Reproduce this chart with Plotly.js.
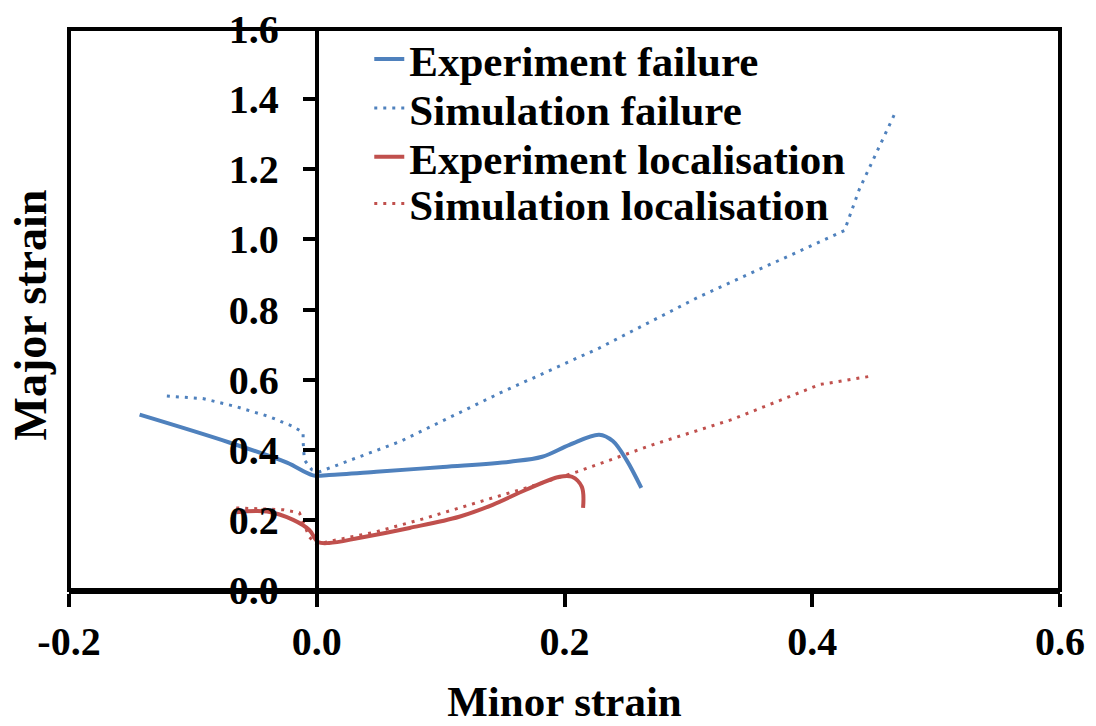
<!DOCTYPE html>
<html>
<head>
<meta charset="utf-8">
<script src="https://cdn.plot.ly/plotly-3.0.1.min.js"></script>
<style>html,body{margin:0;padding:0;background:#fff;}#chart{width:1096px;height:726px;}</style>
</head>
<body>
<div id="chart"></div>
<script>
// Experiment failure
const expFailX = [-0.143, -0.070, -0.024, -0.003, 0.010, 0.048, 0.102, 0.156, 0.182, 0.204, 0.228, 0.239, 0.250, 0.262];
const expFailY = [0.500, 0.420, 0.363, 0.327, 0.328, 0.337, 0.351, 0.366, 0.380, 0.414, 0.443, 0.425, 0.371, 0.291];
// Simulation failure
const simFailX = [-0.121, -0.092, -0.065, -0.038, -0.019, -0.011, -0.011, -0.010, -0.004, 0.002, 0.067, 0.148, 0.228, 0.309, 0.426, 0.438, 0.468];
const simFailY = [0.553, 0.546, 0.523, 0.494, 0.466, 0.449, 0.423, 0.371, 0.343, 0.337, 0.423, 0.562, 0.690, 0.837, 1.025, 1.143, 1.369];
// Experiment localisation
const expLocX = [-0.065, -0.040, -0.019, -0.006, 0.001, 0.010, 0.035, 0.075, 0.115, 0.142, 0.169, 0.196, 0.206, 0.214, 0.215];
const expLocY = [0.222, 0.224, 0.200, 0.171, 0.137, 0.134, 0.149, 0.177, 0.209, 0.243, 0.286, 0.323, 0.323, 0.294, 0.234];
// Simulation localisation
const simLocX = [-0.065, -0.027, -0.014, -0.006, 0.000, 0.008, 0.048, 0.089, 0.129, 0.169, 0.210, 0.271, 0.335, 0.406, 0.446];
const simLocY = [0.234, 0.229, 0.220, 0.151, 0.129, 0.137, 0.166, 0.206, 0.249, 0.291, 0.337, 0.414, 0.486, 0.586, 0.609];

const seriesNames = ['Experiment failure', 'Simulation failure', 'Experiment localisation', 'Simulation localisation'];
const xTickVals = [-0.2, 0.0, 0.2, 0.4, 0.6];
const xTickText = ['-0.2', '0.0', '0.2', '0.4', '0.6'];
const yTickVals = [0.0, 0.2, 0.4, 0.6, 0.8, 1.0, 1.2, 1.4, 1.6];
const yTickText = ['0.0', '0.2', '0.4', '0.6', '0.8', '1.0', '1.2', '1.4', '1.6'];

const BLUE = '#4F81BD';
const RED = '#C0504D';
const FONT = 'Liberation Serif, Times New Roman, serif';

const traces = [
  {x: expFailX, y: expFailY, name: seriesNames[0], mode: 'lines', legend: 'legend',
   line: {color: BLUE, width: 4, shape: 'spline', smoothing: 1.0}},
  {x: simFailX, y: simFailY, name: seriesNames[1], mode: 'lines', legend: 'legend2',
   line: {color: BLUE, width: 3, dash: '3px,6px'}},
  {x: expLocX, y: expLocY, name: seriesNames[2], mode: 'lines', legend: 'legend3',
   line: {color: RED, width: 4, shape: 'spline', smoothing: 1.0}},
  {x: simLocX, y: simLocY, name: seriesNames[3], mode: 'lines', legend: 'legend4',
   line: {color: RED, width: 3, dash: '3px,6px'}}
];

function legendAt(yc) {
  return {x: 0.303, y: yc, xanchor: 'left', yanchor: 'middle', bgcolor: 'rgba(0,0,0,0)',
          borderwidth: 0, itemwidth: 30,
          font: {family: FONT, size: 43, color: '#000', weight: 'bold'}};
}

const layout = {
  width: 1096, height: 726,
  margin: {l: 69, r: 36, t: 29, b: 136},
  paper_bgcolor: '#fff', plot_bgcolor: '#fff',
  font: {family: FONT, color: '#000', size: 40, weight: 'bold'},
  showlegend: true,
  legend: legendAt(0.9465),
  legend2: legendAt(0.8590),
  legend3: legendAt(0.7720),
  legend4: legendAt(0.6890),
  xaxis: {
    range: [-0.2, 0.6], tickvals: xTickVals, ticktext: xTickText,
    ticks: 'outside', ticklen: 13, tickwidth: 4, tickcolor: '#000',
    showline: true, linewidth: 4, linecolor: '#000', showgrid: false, zeroline: false,
    tickfont: {family: FONT, size: 40, color: '#000', weight: 'bold'},
    ticklabelstandoff: 0,
    title: {text: 'Minor strain', font: {family: FONT, size: 43, color: '#000', weight: 'bold'}, standoff: 24}
  },
  yaxis: {
    range: [0, 1.6], tickvals: yTickVals, ticktext: yTickText,
    anchor: 'free', position: 0.25,
    ticks: 'outside', ticklen: 12, tickwidth: 4, tickcolor: '#000',
    showline: true, linewidth: 4, linecolor: '#000', showgrid: false, zeroline: false,
    tickfont: {family: FONT, size: 40, color: '#000', weight: 'bold'},
    ticklabelstandoff: 16,
    title: {text: ''}
  },
  shapes: [
    {type: 'rect', xref: 'paper', yref: 'paper', x0: 0, x1: 1, y0: 0, y1: 1, line: {color: '#000', width: 4}, layer: 'above'}
  ],
  annotations: [
    {text: 'Major strain', xref: 'paper', yref: 'paper', x: -0.039, y: 0.49, textangle: -90, showarrow: false,
     xanchor: 'center', yanchor: 'middle', font: {family: FONT, size: 46, color: '#000', weight: 'bold'}}
  ]
};

Plotly.newPlot('chart', traces, layout, {staticPlot: true, displayModeBar: false});
</script>
</body>
</html>
